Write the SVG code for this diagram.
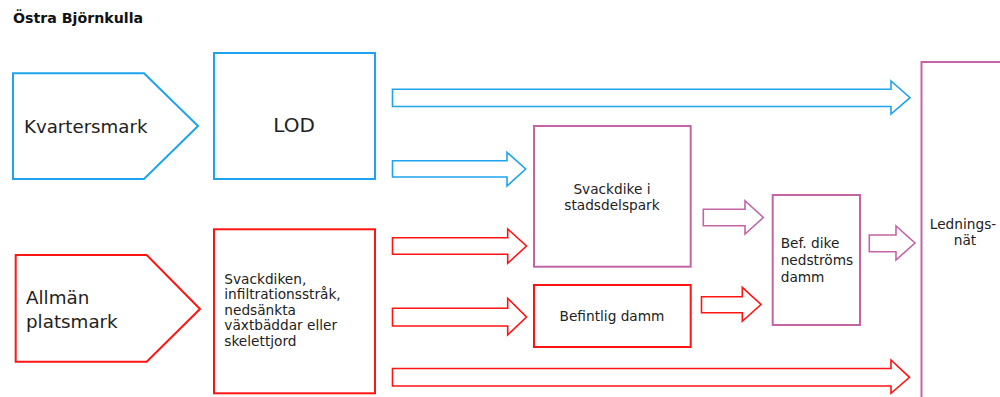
<svg xmlns="http://www.w3.org/2000/svg" width="1000" height="397" viewBox="0 0 1000 397">
<style>
text{font-family:"DejaVu Sans","Verdana",sans-serif;fill:#222}
.blue{fill:#fff;stroke:#1ea4ec;stroke-width:2}
.red{fill:#fff;stroke:#ff1414;stroke-width:2}
.pink{fill:#fff;stroke:#c464a4;stroke-width:2}
.arr{stroke-width:1.6;stroke-linejoin:miter}
.s14{font-size:13.7px}
.mid{text-anchor:middle}
</style>
<rect width="1000" height="397" fill="#fff"/>
<text x="13" y="23" style="font-weight:bold;font-size:14.2px;fill:#111">Östra Björnkulla</text>

<g id="kvartersmark">
<polygon class="blue" points="13,73.3 144,73.3 198,126 144,179 13,179"/>
<text x="24" y="133" style="font-size:18.2px">Kvartersmark</text>
</g>
<g id="lod">
<rect class="blue" x="214" y="53" width="161" height="126"/>
<text x="294" y="132" class="mid" style="font-size:20px">LOD</text>
</g>
<g id="allman">
<polygon class="red" points="15.7,255 146.7,255 200,309 146.7,361.7 15.7,361.7"/>
<text x="26" y="304" style="font-size:18.3px">Allmän</text>
<text x="26" y="327.5" style="font-size:18.3px">platsmark</text>
</g>
<g id="svackdiken">
<rect class="red" x="214" y="229.3" width="161" height="164"/>
<text class="s14" x="224.3" y="284">Svackdiken,</text>
<text class="s14" x="224.3" y="299">infiltrationsstråk,</text>
<text class="s14" x="224.3" y="314.5">nedsänkta</text>
<text class="s14" x="224.3" y="330">växtbäddar eller</text>
<text class="s14" x="224.3" y="345.5">skelettjord</text>
</g>
<g id="svackdike-park">
<rect class="pink" x="534" y="126" width="156.7" height="140.7"/>
<text class="s14 mid" x="612" y="194">Svackdike i</text>
<text class="s14 mid" x="612" y="210">stadsdelspark</text>
</g>
<g id="befintlig-damm">
<rect class="red" x="534" y="285" width="156.7" height="62"/>
<text class="s14 mid" x="612" y="321">Befintlig damm</text>
</g>
<g id="bef-dike">
<rect class="pink" x="772.7" y="195" width="87.3" height="130"/>
<text class="s14" x="780.7" y="248.3">Bef. dike</text>
<text class="s14" x="780.7" y="265">nedströms</text>
<text class="s14" x="780.7" y="281.5">damm</text>
</g>
<g id="ledningsnat">
<rect class="pink" x="921.5" y="62" width="100" height="400"/>
<text class="s14 mid" x="963" y="228.5">Lednings-</text>
<text class="s14 mid" x="965" y="244.5">nät</text>
</g>

<g id="connectors">
<polygon class="blue arr" points="392.5,89.3 891,89.3 891,81 910,97.7 891,114 891,106.5 392.5,106.5"/>
<polygon class="blue arr" points="392.5,160.7 507,160.7 507,152.3 525.7,169 507,186 507,177 392.5,177"/>
<polygon class="red arr" points="392.5,237.7 507.7,237.7 507.7,229 526.5,246 507.7,263.3 507.7,254.3 392.5,254.3"/>
<polygon class="red arr" points="392.5,308.3 507.7,308.3 507.7,298.3 526.5,317 507.7,335 507.7,326 392.5,326"/>
<polygon class="red arr" points="392.5,368.5 891,368.5 891,360 909.5,377.3 891,393.3 891,386 392.5,386"/>
<polygon class="pink arr" points="703.3,209.3 745,209.3 745,200.7 763.3,217.5 745,234 745,225.7 703.3,225.7"/>
<polygon class="red arr" points="701.5,296.7 742.3,296.7 742.3,287.3 761,304.5 742.3,321.3 742.3,312.7 701.5,312.7"/>
<polygon class="pink arr" points="869.3,235 896,235 896,226 915,243 896,260 896,251.7 869.3,251.7"/>
</g>
</svg>
